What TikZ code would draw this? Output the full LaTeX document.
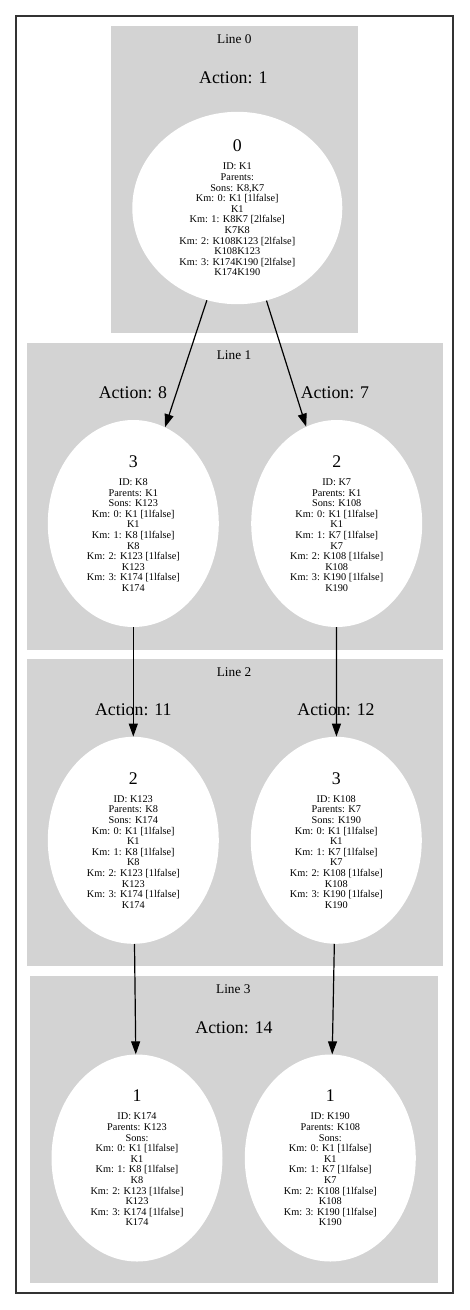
\documentclass[tikz,border=0pt]{standalone}
\usepackage{fontspec}
\setmainfont{Liberation Serif}
\usetikzlibrary{shapes.geometric, arrows.meta}
\definecolor{gvgray}{HTML}{D3D3D3}
\newcommand{\stnum}[1]{{\fontsize{17.8}{20}\selectfont #1}\\[7.5pt]}

\begin{document}
\begin{tikzpicture}[x=1pt, y=-1pt,
    lane/.style={fill=gvgray},
    lanelbl/.style={font=\fontsize{13.3}{15}\selectfont},
    act/.style={font=\fontsize{17.8}{20}\selectfont},
    st/.style={ellipse, fill=white, inner sep=0pt, align=center, minimum width=171pt, minimum height=207pt, font=\fontsize{10.3}{10.6}\selectfont},
    arrow/.style={-{Triangle[length=13pt, width=9pt]}, line width=1.2pt}
]
    \useasboundingbox (0,0) rectangle (469,1310);
    \draw[line width=1.3pt, black!80] (16,16) rectangle (453,1293);

    \fill[lane] (111,26) rectangle (357.7,332.7);
    \fill[lane] (27,342.7) rectangle (443.3,650);
    \fill[lane] (27,659.3) rectangle (443.3,966);
    \fill[lane] (30,976) rectangle (438.3,1283.3);

    \node[lanelbl] (ln0) at (234.3,39) {Line 0};
    \node[lanelbl] (ln1) at (234,355) {Line 1};
    \node[lanelbl] (ln2) at (234,671.7) {Line 2};
    \node[lanelbl] (ln3) at (233.3,989) {Line 3};

    \node[act] (a1) at (233.3,77.3) {Action: 1};
    \node[act] (a8) at (133,393) {Action: 8};
    \node[act] (a7) at (335,393) {Action: 7};
    \node[act] (a11) at (133.3,710) {Action: 11};
    \node[act] (a12) at (336,710) {Action: 12};
    \node[act] (a14) at (234,1027.3) {Action: 14};

    \node[st, minimum width=210pt, minimum height=190pt] (k1) at (237.3,208) {\stnum{0}ID: K1\\Parents:\\Sons: K8,K7\\Km: 0: K1 [1lfalse]\\K1\\Km: 1: K8K7 [2lfalse]\\K7K8\\Km: 2: K108K123 [2lfalse]\\K108K123\\Km: 3: K174K190 [2lfalse]\\K174K190};

    \node[st] (k8) at (133.3,523.5) {\stnum{3}ID: K8\\Parents: K1\\Sons: K123\\Km: 0: K1 [1lfalse]\\K1\\Km: 1: K8 [1lfalse]\\K8\\Km: 2: K123 [1lfalse]\\K123\\Km: 3: K174 [1lfalse]\\K174};
    \node[st] (k7) at (336.7,523.5) {\stnum{2}ID: K7\\Parents: K1\\Sons: K108\\Km: 0: K1 [1lfalse]\\K1\\Km: 1: K7 [1lfalse]\\K7\\Km: 2: K108 [1lfalse]\\K108\\Km: 3: K190 [1lfalse]\\K190};

    \node[st] (k123) at (133.3,840.3) {\stnum{2}ID: K123\\Parents: K8\\Sons: K174\\Km: 0: K1 [1lfalse]\\K1\\Km: 1: K8 [1lfalse]\\K8\\Km: 2: K123 [1lfalse]\\K123\\Km: 3: K174 [1lfalse]\\K174};
    \node[st] (k108) at (336.3,840.3) {\stnum{3}ID: K108\\Parents: K7\\Sons: K190\\Km: 0: K1 [1lfalse]\\K1\\Km: 1: K7 [1lfalse]\\K7\\Km: 2: K108 [1lfalse]\\K108\\Km: 3: K190 [1lfalse]\\K190};

    \node[st] (k174) at (137,1158) {\stnum{1}ID: K174\\Parents: K123\\Sons:\\Km: 0: K1 [1lfalse]\\K1\\Km: 1: K8 [1lfalse]\\K8\\Km: 2: K123 [1lfalse]\\K123\\Km: 3: K174 [1lfalse]\\K174};
    \node[st] (k190) at (330.3,1158) {\stnum{1}ID: K190\\Parents: K108\\Sons:\\Km: 0: K1 [1lfalse]\\K1\\Km: 1: K7 [1lfalse]\\K7\\Km: 2: K108 [1lfalse]\\K108\\Km: 3: K190 [1lfalse]\\K190};

    \draw[arrow] (k1) -- (k8);
    \draw[arrow] (k1) -- (k7);
    \draw[arrow] (k8) -- (k123);
    \draw[arrow] (k7) -- (k108);
    \draw[arrow] (k123) -- (k174);
    \draw[arrow] (k108) -- (k190);
\end{tikzpicture}
\end{document}
